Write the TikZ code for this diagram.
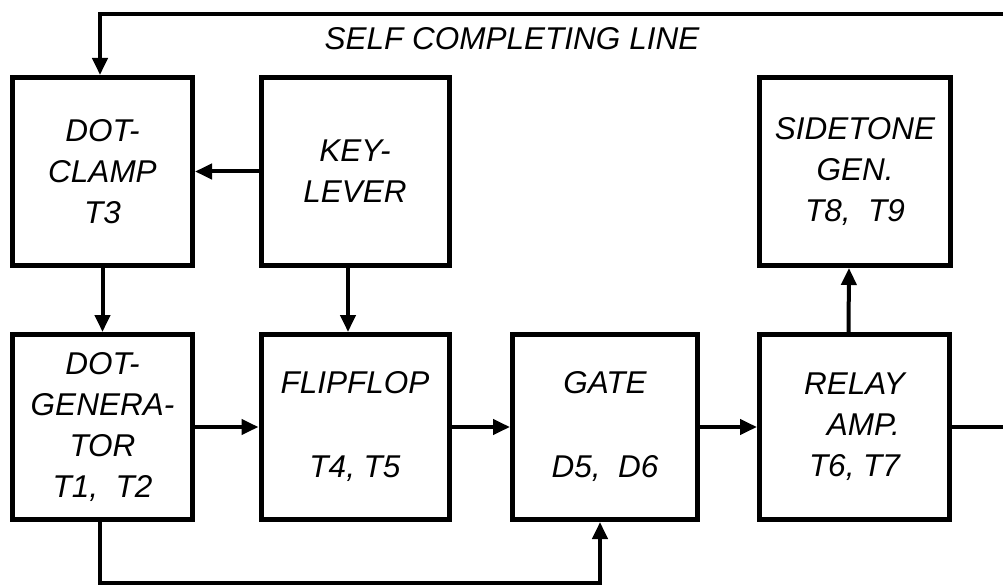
\documentclass[tikz,border=0pt]{standalone}
\usepackage{fontspec}
\setmainfont{Liberation Sans}
\usetikzlibrary{arrows.meta, positioning}
\tikzset{
  blk/.style  = {rectangle, draw=black, line width=5pt, align=center,
                 font=\fontsize{31.5}{41}\selectfont\itshape, inner sep=2pt},
  lbl/.style  = {font=\fontsize{31.5}{36}\selectfont\itshape, inner sep=0pt},
  flow/.style = {-{Triangle[length=17pt, width=15pt]}, line width=4pt},
  wire/.style = {line width=4pt},
}
\begin{document}
\begin{tikzpicture}[x=1pt, y=-1pt]
  \useasboundingbox (0,0) rectangle (1003,585);
  \node[blk, minimum width=180pt, minimum height=188pt] (clamp) at (102.5,171.5) {DOT-\\CLAMP\\T3};
  \node[blk, minimum width=188pt, minimum height=188pt] (key) at (355,171.5) {KEY-\\LEVER};
  \node[blk, minimum width=191pt, minimum height=188pt] (side) at (855,171.5) {SIDETONE\\GEN.\\T8,\ \ T9};
  \node[blk, minimum width=180pt, minimum height=185pt] (dotgen) at (102.5,427) {DOT-\\GENERA-\\TOR\\T1,\ \ T2};
  \node[blk, minimum width=188pt, minimum height=185pt] (flip) at (355,427) {FLIPFLOP\\[43pt]T4,\ T5};
  \node[blk, minimum width=185pt, minimum height=185pt] (gate) at (605,427) {GATE\\[43pt]D5,\ \ D6};
  \node[blk, minimum width=190pt, minimum height=185pt] (relay) at (854.5,427) {RELAY\\\ \ AMP.\\T6,\ T7};
  \node[lbl] (selfline) at (512,39) {SELF COMPLETING LINE};
  \coordinate (topR) at (1003,14);
  \coordinate (outR) at (1003,427);
  \coordinate (botL) at (100,583);
  \coordinate (gateIn) at ([xshift=-5pt]gate.south);
  \foreach \a/\b in {key/clamp,dotgen/flip,flip/gate,gate/relay}{\draw[flow] (\a) -- (\b);}
  \draw[flow] (clamp) -- (dotgen);
  \draw[flow] ([xshift=-7pt]key.south) -- ([xshift=-7pt]flip.north);
  \draw[flow] ([xshift=-6pt]relay.north) -- ([xshift=-6pt]side.south);
  \draw[wire] (relay.east) -- (outR);
  \draw[flow] (topR) -| ([xshift=-2.5pt]clamp.north);
  \draw[flow] ([xshift=-2.5pt]dotgen.south) -- (botL) -| (gateIn);
\end{tikzpicture}
\end{document}
